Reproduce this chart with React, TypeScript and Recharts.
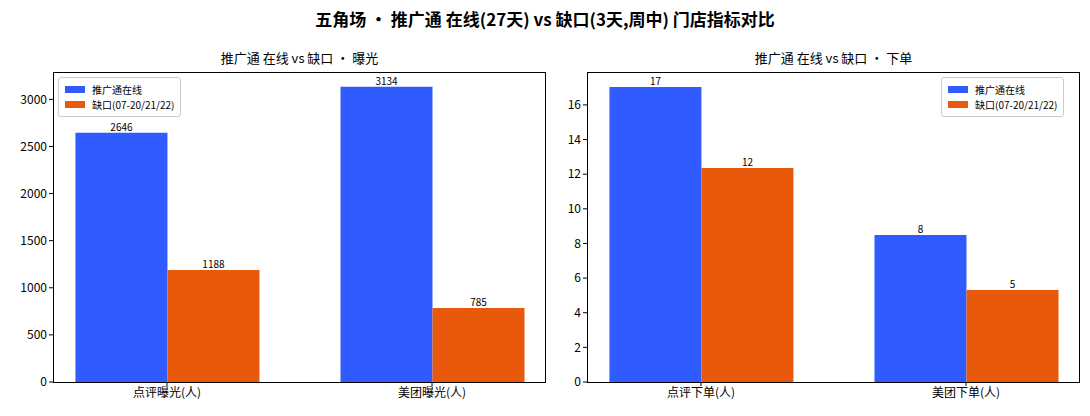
import React from "react";
import { BarChart, Bar, XAxis, YAxis, LabelList } from "recharts";

const leftCats = ["点评曝光(人)", "美团曝光(人)"];
const leftOnline = [2646, 3134];
const leftGap = [1188, 785];
const rightCats = ["点评下单(人)", "美团下单(人)"];
const rightOnline = [17.04, 8.49];
const rightGap = [12.36, 5.31];
const leftTicks = [0, 500, 1000, 1500, 2000, 2500, 3000];
const rightTicks = [0, 2, 4, 6, 8, 10, 12, 14, 16];
const seriesNames = ["推广通在线", "缺口(07-20/21/22)"];
const BLUE = "#2f5bff";
const ORANGE = "#e8590c";
const FONT = "'Noto Sans CJK SC', 'DejaVu Sans', sans-serif";

const mk = (cats: string[], a: number[], b: number[]) =>
  cats.map((c, i) => ({ x: i, name: c, a: a[i], b: b[i] }));

function Panel({ left, width, yWidth, mLeft, cats, a, b, ticks, domainMax, title, legendLeft }: any) {
  const data = mk(cats, a, b);
  const plotL = mLeft + yWidth;
  const plotW = 493;
  return (
    <div style={{ position: "absolute", left, top: 0, width, height: 416 }}>
      <div style={{ position: "absolute", top: 48, left: plotL, width: plotW, textAlign: "center", fontSize: 13 }}>{title}</div>
      <BarChart width={width} height={416} data={data} barGap={0} barSize={92}
        margin={{ top: 72, left: mLeft, right: width - plotL - plotW, bottom: 4 }}>
        <XAxis dataKey="x" type="number" height={30} domain={[-0.43, 1.43]} ticks={[0, 1]} tickFormatter={(v: number) => cats[v]}
          axisLine={false} tickSize={4} tick={{ fill: "#000", fontSize: 12, fontFamily: FONT }} tickLine={{ stroke: "#000" }} />
        <YAxis type="number" width={yWidth} domain={[0, domainMax]} ticks={ticks} axisLine={false} tickSize={4}
          tick={{ fill: "#000", fontSize: 12, fontFamily: FONT }} tickLine={{ stroke: "#000" }} />
        <Bar dataKey="a" fill={BLUE} isAnimationActive={false}>
          <LabelList dataKey="a" position="top" offset={2} formatter={(v: number) => Math.round(v)} style={{ fontSize: 10, fill: "#000" }} />
        </Bar>
        <Bar dataKey="b" fill={ORANGE} isAnimationActive={false}>
          <LabelList dataKey="b" position="top" offset={2} formatter={(v: number) => Math.round(v)} style={{ fontSize: 10, fill: "#000" }} />
        </Bar>
      </BarChart>
      <div style={{ position: "absolute", left: plotL, top: 72, width: plotW, height: 311, border: "1px solid #000", boxSizing: "border-box", pointerEvents: "none" }} />
      <div style={{ position: "absolute", left: legendLeft, top: 77, border: "1px solid #ccc", borderRadius: 3, padding: "4px 6px", fontSize: 10, background: "#fff", lineHeight: "15px" }}>
        {seriesNames.map((n, i) => (
          <div key={n} style={{ display: "flex", alignItems: "center" }}>
            <span style={{ display: "inline-block", width: 20, height: 7, background: i ? ORANGE : BLUE, marginRight: 7 }} />{n}
          </div>
        ))}
      </div>
    </div>
  );
}

export default function App() {
  return (
    <div style={{ position: "fixed", left: 0, top: 0, width: 1090, height: 416, background: "#fff", fontFamily: FONT }}>
      <div style={{ position: "absolute", top: 6, width: 1090, textAlign: "center", fontSize: 17, fontWeight: "bold" }}>
        五角场 • 推广通 在线(27天) vs 缺口(3天,周中) 门店指标对比
      </div>
      <Panel left={0} width={560} yWidth={45} mLeft={8} cats={leftCats} a={leftOnline} b={leftGap} ticks={leftTicks}
        domainMax={3290} title="推广通 在线 vs 缺口 · 曝光" legendLeft={58} />
      <Panel left={540} width={550} yWidth={40} mLeft={7} cats={rightCats} a={rightOnline} b={rightGap} ticks={rightTicks}
        domainMax={17.9} title="推广通 在线 vs 缺口 · 下单" legendLeft={401} />
    </div>
  );
}
